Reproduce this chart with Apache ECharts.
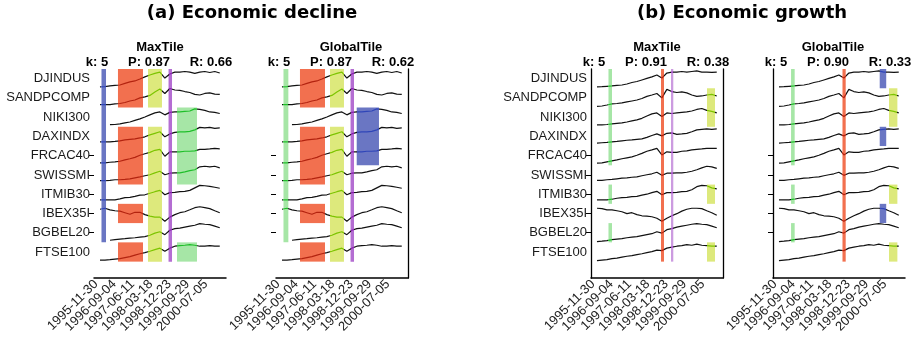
<!DOCTYPE html>
<html>
<head>
<meta charset="utf-8">
<script src="https://cdn.jsdelivr.net/npm/echarts@6/dist/echarts.min.js"></script>
<style>
html,body{margin:0;padding:0;background:#fff;}
#chart{width:923px;height:345px;}
</style>
</head>
<body>
<div id="chart"></div>
<script>
var chart = echarts.init(document.getElementById('chart'));

// days since 1995-11-30 of the sampled points
var DAYS = [61,137,213,289,365,441,517,593,669,745,821,897,973,1049,1125,1201,1277,1353,1429,1505,1581,1657,1733,1809,1885];
var ROWS = ['DJINDUS','SANDPCOMP','NIKI300','DAXINDX','FRCAC40','SWISSMI','ITMIB30','IBEX35I','BGBEL20','FTSE100'];
var TICK_DAYS = [0,279,558,837,1116,1395,1674];
var TICK_LABELS = ['1995-11-30','1996-09-04','1997-06-11','1998-03-18','1998-12-23','1999-09-29','2000-07-05'];

// (a) economic decline, normalised index level per row
var dj_a = [.07,.09,.12,.15,.17,.25,.33,.38,.48,.59,.69,.77,.84,.53,.74,.84,.84,.87,.84,.77,.84,.87,.82,.87,.79];
var sp_a = [.15,.15,.15,.19,.21,.26,.34,.39,.50,.55,.63,.81,.96,.73,.99,.91,.89,.83,.78,.68,.65,.73,.76,.70,.68];
var ni_a = [null,null,.11,.12,.15,.20,.25,.33,.41,.51,.62,.72,.77,.62,.75,.77,.77,.80,.82,.93,.90,.85,.77,.75,.69];
var da_a = [.22,.22,.22,.24,.27,.32,.35,.37,.42,.48,.58,.66,.74,.48,.63,.71,.74,.74,.76,.84,.97,.94,.97,.92,.94];
var fr_a = [.13,.13,.16,.18,.21,.28,.34,.41,.52,.60,.67,.78,.83,.47,.70,.70,.70,.73,.73,.75,.83,.83,.85,.88,.85];
var sw_a = [.20,.20,.22,.25,.25,.27,.30,.35,.40,.46,.51,.61,.69,.51,.59,.61,.61,.66,.72,.77,.92,.95,.92,.95,.87];
var it_a = [.21,.21,.21,.21,.26,.32,.34,.39,.45,.47,.55,.63,.70,.47,.58,.60,.63,.65,.70,.83,.96,.94,.91,.86,.81];
var ib_a = [.72,.77,.69,.64,.62,.54,.46,.56,.56,.44,.36,.31,.31,.10,.31,.44,.54,.59,.69,.80,.85,.80,.75,.64,.54];
var bg_a = [null,null,.11,.14,.17,.19,.22,.24,.27,.30,.37,.48,.55,.40,.63,.71,.74,.79,.84,.89,.97,.94,.92,.84,.76];
var ft_a = [.08,.08,.10,.13,.16,.21,.26,.34,.41,.47,.54,.62,.70,.54,.70,.80,.83,.85,.88,.85,.80,.80,.83,.80,.80];

// (b) economic growth
var dj_b = [.07,.08,.10,.12,.15,.17,.22,.30,.35,.43,.51,.59,.69,.53,.79,.84,.84,.87,.84,.87,.90,.84,.84,.82,.84];
var sp_b = [.06,.08,.13,.19,.21,.24,.29,.34,.39,.47,.58,.65,.73,.50,.94,.83,.78,.81,.76,.65,.58,.60,.65,.68,.60];
var ni_b = [.10,.10,.12,.15,.18,.20,.25,.31,.36,.44,.56,.67,.72,.54,.72,.69,.72,.75,.77,.82,.90,.95,.85,.80,.72];
var da_b = [.15,.17,.19,.22,.24,.27,.30,.32,.35,.37,.45,.55,.63,.53,.66,.68,.61,.63,.66,.74,.84,.87,.89,.87,.89];
var fr_b = [.11,.13,.18,.23,.28,.34,.39,.44,.52,.62,.73,.80,.88,.54,.70,.67,.67,.73,.75,.80,.83,.85,.88,.88,.88];
var sw_b = [.22,.22,.25,.27,.30,.33,.35,.38,.40,.46,.51,.56,.64,.48,.59,.59,.61,.61,.64,.69,.77,.87,.95,.92,.84];
var it_b = [.21,.21,.21,.24,.29,.32,.34,.37,.39,.45,.50,.58,.65,.47,.58,.58,.60,.63,.65,.73,.89,.96,.94,.83,.78];
var ib_b = [.77,.75,.69,.69,.64,.59,.49,.54,.44,.38,.36,.33,.25,.10,.25,.38,.49,.62,.72,.77,.77,.75,.64,.54,.41];
var bg_b = [.04,.06,.09,.14,.17,.19,.24,.27,.30,.35,.40,.45,.55,.48,.66,.71,.79,.84,.89,.94,.97,.94,.92,.84,.76];
var ft_b = [.05,.08,.10,.16,.18,.23,.28,.31,.36,.41,.47,.52,.60,.57,.70,.75,.80,.83,.88,.85,.91,.85,.83,.80,.80];

var declineRows = [dj_a,sp_a,ni_a,da_a,fr_a,sw_a,it_a,ib_a,bg_a,ft_a];
var growthRows = [dj_b,sp_b,ni_b,da_b,fr_b,sw_b,it_b,ib_b,bg_b,ft_b];

// tiles: [kind, fromDay, toDay, rows]
var tilesDeclineMax = [
  ['blue', 84, 153, [0,1,2,3,4,5,6,7,8]],
  ['red', 335, 716, [0,1,3,4,5,7,9]],
  ['yellow', 792, 1005, [0,1,3,4,5,6,7,8,9]],
  ['purple', 1105, 1158, [0,1,2,3,4,5,6,7,8,9]],
  ['green', 1234, 1538, [2,3,4,5,9]]
];
var tilesDeclineGlobal = [
  ['green', 84, 158, [0,1,2,3,4,5,6,7,8]],
  ['red', 335, 716, [0,1,3,4,5,7,9]],
  ['yellow', 792, 1005, [0,1,3,4,5,6,7,8,9]],
  ['purple', 1105, 1158, [0,1,2,3,4,5,6,7,8,9]],
  ['blue', 1199, 1538, [2,3,4]]
];
var tilesGrowthMax = [
  ['green', 236, 290, [0,1,2,3,4,6,8]],
  ['red', 1036, 1082, [0,1,2,3,4,5,6,7,8,9]],
  ['lilac', 1188, 1223, [0,1,2,3,4,5,6,7,8,9]],
  ['yellow', 1736, 1858, [1,2,6,9]]
];
var tilesGrowthGlobal = [
  ['green', 245, 300, [0,1,2,3,4,6,8]],
  ['red', 1028, 1077, [0,1,2,3,4,5,6,7,8,9]],
  ['blue', 1595, 1694, [0,3,7]],
  ['yellow', 1736, 1864, [1,2,6,9]]
];

var PANEL_NAMES = ['MaxTile','GlobalTile','MaxTile','GlobalTile'];
var K_VALUES = ['5','5','5','5'];
var P_VALUES = ['0.87','0.87','0.91','0.90'];
var R_VALUES = ['0.66','0.62','0.38','0.33'];
var SECTION_TITLES = ['(a) Economic decline','(b) Economic growth'];

var FILL = {red:'#f2704f', yellow:'#dde97c', green:'#a6e6a6', blue:'#6a76c3', purple:'#b46dd2', lilac:'#cc9be0'};
var INK = {red:'#b3230f', yellow:'#7cc400', green:'#1fbf2a', blue:'#2f45b8', purple:'#8a1fb0', lilac:'#9a3cc0'};

var panels = [
  {rows: declineRows, tiles: tilesDeclineMax, left: 94, titleX: 160},
  {rows: declineRows, tiles: tilesDeclineGlobal, left: 276, titleX: 351},
  {rows: growthRows, tiles: tilesGrowthMax, left: 591, titleX: 657},
  {rows: growthRows, tiles: tilesGrowthGlobal, left: 773, titleX: 833}
];

var YMIN = -0.85, YMAX = 10;
var labelVals = ROWS.map(function(n, i){ return 9.5 - i; });
var tickVals = [5.5, 4.5, 3.5, 2.5, 1.5];

function runs(rows){
  var out = [], s = rows[0], prev = rows[0];
  for (var i = 1; i < rows.length; i++) {
    if (rows[i] === prev + 1) { prev = rows[i]; }
    else { out.push([s, prev]); s = prev = rows[i]; }
  }
  out.push([s, prev]);
  return out;
}

var grid = [], xAxis = [], yAxis = [], series = [], visualMap = [], graphic = [];

panels.forEach(function(p, pi){
  grid.push({left: p.left, top: 69, width: 132, height: 209});
  xAxis.push({
    gridIndex: pi, type: 'value', min: -30, max: 1980,
    axisLine: {show: true, onZero: false, lineStyle: {color: '#000', width: 1.5}},
    axisTick: {show: false}, splitLine: {show: false},
    axisLabel: {
      customValues: TICK_DAYS, rotate: 45, margin: 4, interval: 0, hideOverlap: false,
      fontFamily: 'Liberation Sans', fontSize: 13, color: '#222',
      formatter: function(v){ var i = TICK_DAYS.indexOf(v); return i < 0 ? '' : TICK_LABELS[i]; }
    }
  });
  yAxis.push({
    gridIndex: pi, type: 'value', min: YMIN, max: YMAX,
    axisLine: {show: pi >= 2, onZero: false, lineStyle: {color: '#000', width: 1.3}},
    axisTick: {show: true, customValues: tickVals, length: 5, lineStyle: {color: '#000', width: 1}},
    splitLine: {show: false},
    axisLabel: {
      show: pi % 2 === 0, customValues: labelVals, margin: 4, hideOverlap: false,
      fontFamily: 'Liberation Sans', fontSize: 13, color: '#1a1a1a',
      formatter: function(v){ var i = Math.round(9.5 - v); return ROWS[i] || ''; }
    }
  });

  // lines, coloured where they cross a tile
  p.rows.forEach(function(vals, r){
    var idx = series.length;
    var pieces = [];
    p.tiles.forEach(function(t){
      if (t[3].indexOf(r) >= 0) pieces.push({gte: t[1], lte: t[2], color: INK[t[0]]});
    });
    var s = {
      type: 'line', xAxisIndex: pi, yAxisIndex: pi, z: 3,
      symbol: 'none', animation: false, silent: true,
      lineStyle: {width: 1.2},
      data: DAYS.map(function(d, k){ return vals[k] == null ? [d, '-'] : [d, 9 - r + vals[k]]; })
    };
    if (pieces.length) {
      visualMap.push({type: 'piecewise', show: false, dimension: 0, seriesIndex: idx,
        pieces: pieces, outOfRange: {color: '#111'}});
    } else {
      s.lineStyle.color = '#111';
    }
    series.push(s);
  });

  // tiles
  var areas = [];
  p.tiles.forEach(function(t){
    runs(t[3]).forEach(function(run){
      areas.push([
        {xAxis: t[1], yAxis: 9 - run[1], itemStyle: {color: FILL[t[0]], opacity: 1}},
        {xAxis: t[2], yAxis: 10 - run[0]}
      ]);
    });
  });
  series.push({
    type: 'line', xAxisIndex: pi, yAxisIndex: pi, z: 1, data: [],
    animation: false, silent: true,
    markArea: {silent: true, data: areas}
  });

  // titles
  var boldSmall = 'bold 13px "Liberation Sans"';
  graphic.push({type: 'text', x: p.titleX, y: 47,
    style: {text: PANEL_NAMES[pi], font: boldSmall, textAlign: 'center', textVerticalAlign: 'middle', fill: '#000'}});
  graphic.push({type: 'text', x: p.left + 3, y: 62,
    style: {text: 'k: ' + K_VALUES[pi], font: boldSmall, textAlign: 'center', textVerticalAlign: 'middle', fill: '#000'}});
  graphic.push({type: 'text', x: p.left + 55, y: 62,
    style: {text: 'P: ' + P_VALUES[pi], font: boldSmall, textAlign: 'center', textVerticalAlign: 'middle', fill: '#000'}});
  graphic.push({type: 'text', x: p.left + 117, y: 62,
    style: {text: 'R: ' + R_VALUES[pi], font: boldSmall, textAlign: 'center', textVerticalAlign: 'middle', fill: '#000'}});
});

// right frame lines for (a) GlobalTile and (b) MaxTile
[1, 2].forEach(function(pi){
  yAxis.push({
    gridIndex: pi, type: 'value', position: 'right', min: YMIN, max: YMAX,
    axisLine: {show: true, onZero: false, lineStyle: {color: '#000', width: 1.3}},
    axisTick: {show: false}, axisLabel: {show: false}, splitLine: {show: false}
  });
});

graphic.push({type: 'text', x: 252, y: 13,
  style: {text: SECTION_TITLES[0], font: 'bold 18px "DejaVu Sans"', textAlign: 'center', textVerticalAlign: 'middle', fill: '#000'}});
graphic.push({type: 'text', x: 742, y: 13,
  style: {text: SECTION_TITLES[1], font: 'bold 18px "DejaVu Sans"', textAlign: 'center', textVerticalAlign: 'middle', fill: '#000'}});

chart.setOption({
  animation: false,
  backgroundColor: '#fff',
  grid: grid,
  xAxis: xAxis,
  yAxis: yAxis,
  visualMap: visualMap,
  series: series,
  graphic: graphic
});
</script>
</body>
</html>
